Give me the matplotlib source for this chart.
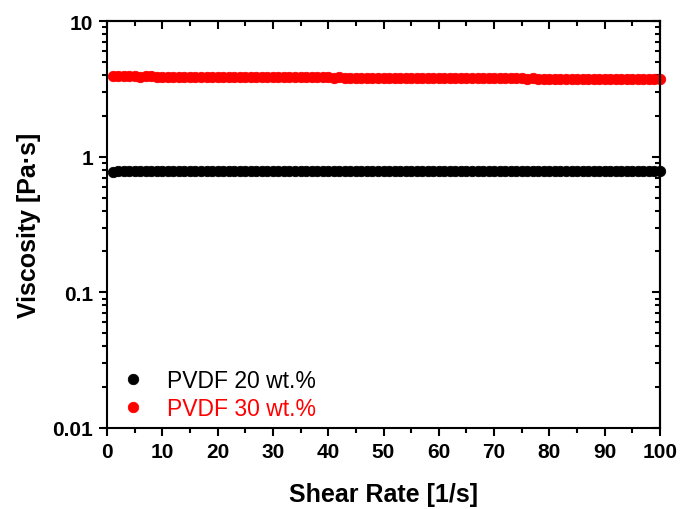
import matplotlib
matplotlib.use("Agg")
import matplotlib.pyplot as plt
from matplotlib.ticker import MultipleLocator, LogLocator, NullFormatter

plt.rcParams['font.family'] = ['Liberation Sans', 'DejaVu Sans']

shear_rate = list(range(1, 101))
visc_20 = [0.77, 0.78, 0.78, 0.79, 0.79, 0.79, 0.79, 0.79, 0.79, 0.79,
           0.79, 0.79, 0.79, 0.79, 0.79, 0.79, 0.79, 0.79, 0.79, 0.79,
           0.79, 0.79, 0.79, 0.79, 0.79, 0.79, 0.79, 0.79, 0.79, 0.79,
           0.79, 0.79, 0.79, 0.79, 0.79, 0.79, 0.79, 0.79, 0.79, 0.79,
           0.79, 0.79, 0.79, 0.79, 0.79, 0.79, 0.79, 0.79, 0.79, 0.79,
           0.79, 0.79, 0.79, 0.79, 0.79, 0.79, 0.79, 0.79, 0.79, 0.79,
           0.79, 0.79, 0.79, 0.79, 0.79, 0.79, 0.79, 0.79, 0.79, 0.79,
           0.79, 0.79, 0.79, 0.79, 0.79, 0.79, 0.79, 0.79, 0.79, 0.79,
           0.79, 0.79, 0.79, 0.79, 0.79, 0.79, 0.79, 0.79, 0.79, 0.79,
           0.79, 0.79, 0.79, 0.79, 0.79, 0.79, 0.79, 0.79, 0.79, 0.79]
visc_30 = [3.90, 3.90, 3.91, 3.90, 3.90, 3.89, 3.90, 3.90, 3.89, 3.89,
           3.89, 3.89, 3.88, 3.89, 3.88, 3.88, 3.88, 3.88, 3.87, 3.88,
           3.87, 3.87, 3.87, 3.87, 3.86, 3.87, 3.86, 3.86, 3.86, 3.85,
           3.86, 3.85, 3.85, 3.85, 3.85, 3.84, 3.85, 3.84, 3.84, 3.84,
           3.83, 3.84, 3.83, 3.83, 3.83, 3.82, 3.83, 3.82, 3.82, 3.82,
           3.81, 3.82, 3.81, 3.81, 3.81, 3.80, 3.81, 3.80, 3.80, 3.80,
           3.79, 3.80, 3.79, 3.79, 3.79, 3.78, 3.79, 3.78, 3.78, 3.78,
           3.77, 3.78, 3.77, 3.77, 3.77, 3.76, 3.77, 3.76, 3.76, 3.76,
           3.76, 3.75, 3.76, 3.75, 3.75, 3.75, 3.75, 3.74, 3.75, 3.74,
           3.74, 3.74, 3.74, 3.74, 3.73, 3.74, 3.73, 3.74, 3.73, 3.73]
labels = ['PVDF 20 wt.%', 'PVDF 30 wt.%']
colors = ['black', 'red']
xticks = [0, 10, 20, 30, 40, 50, 60, 70, 80, 90, 100]
yticks = [0.01, 0.1, 1, 10]
yticklabels = ['0.01', '0.1', '1', '10']

fig = plt.figure(figsize=(6.8, 5.1), dpi=100)
ax = fig.add_axes([107/680, 1 - 429/510, (660-107)/680, (429-22)/510])

for y, lab, c in zip([visc_20, visc_30], labels, colors):
    ax.plot(shear_rate, y, 'o', color=c, markersize=7.5, label=lab,
            markeredgewidth=0.6, markeredgecolor=c, clip_on=False)

ax.set_yscale('log')
ax.set_xlim(0, 100)
ax.set_ylim(0.01, 10)
ax.set_xticks(xticks)
ax.xaxis.set_minor_locator(MultipleLocator(5))
ax.set_yticks(yticks)
ax.set_yticklabels(yticklabels)
ax.yaxis.set_minor_locator(LogLocator(base=10, subs=range(2, 10)))
ax.yaxis.set_minor_formatter(NullFormatter())

for sp in ax.spines.values():
    sp.set_linewidth(1.5)

ax.tick_params(which='major', direction='out', length=6, width=1.5, labelsize=15, pad=4)
ax.tick_params(which='minor', direction='out', length=3.5, width=1.5)
for t in ax.get_xticklabels() + ax.get_yticklabels():
    t.set_fontweight('bold')

secx = ax.secondary_xaxis('top')
secx.set_xticks(xticks)
secx.xaxis.set_minor_locator(MultipleLocator(5))
secx.tick_params(which='major', direction='in', length=6, width=1.5, labeltop=False)
secx.tick_params(which='minor', direction='in', length=3.5, width=1.5)
secx.spines['top'].set_linewidth(1.5)

secy = ax.secondary_yaxis('right')
secy.set_yticks(yticks)
secy.yaxis.set_minor_locator(LogLocator(base=10, subs=range(2, 10)))
secy.yaxis.set_minor_formatter(NullFormatter())
secy.tick_params(which='major', direction='in', length=6, width=1.5, labelright=False)
secy.tick_params(which='minor', direction='in', length=3.5, width=1.5)
secy.spines['right'].set_linewidth(1.5)

ax.set_xlabel('Shear Rate [1/s]', fontsize=18, fontweight='bold', labelpad=15)
ax.set_ylabel('Viscosity [Pa·s]', fontsize=18, fontweight='bold', labelpad=8)

leg = ax.legend(loc='lower left', bbox_to_anchor=(0.005, -0.003), frameon=False,
                fontsize=16.5, handletextpad=0.9, labelspacing=0.22,
                handlelength=1.2, borderaxespad=0.0)
for t, c in zip(leg.get_texts(), colors):
    t.set_color(c)

fig.savefig('out.png', dpi=100)
